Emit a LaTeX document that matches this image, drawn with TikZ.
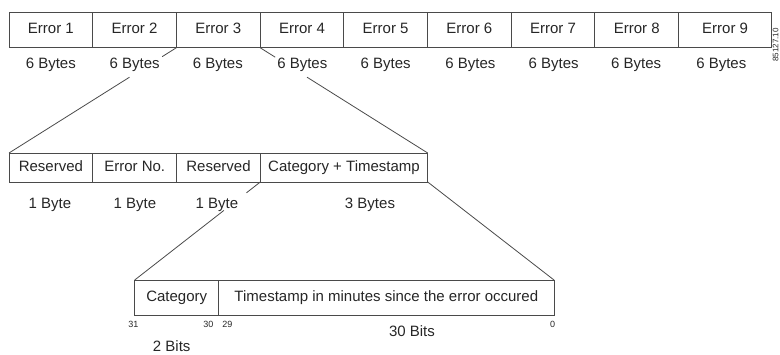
\documentclass[tikz,border=0pt]{standalone}
\usepackage{fontspec}
\setmainfont{Liberation Sans}
\usetikzlibrary{calc}
\definecolor{linec}{HTML}{4A4A4A}
\definecolor{textc}{HTML}{262626}
\begin{document}
\begin{tikzpicture}[x=1bp,y=-1bp,
  cell/.style={draw=linec, line width=0.9bp, inner sep=0pt, outer sep=0pt, anchor=north west,
    text=textc, font=\fontsize{15bp}{17bp}\selectfont, text height=11bp, text depth=3bp},
  lbl/.style={text=textc, font=\fontsize{15bp}{17bp}\selectfont, anchor=base, inner sep=0pt},
  small/.style={text=textc, font=\fontsize{9bp}{10bp}\selectfont, anchor=base, inner sep=0pt},
  conn/.style={draw=linec, line width=0.8bp}]
\useasboundingbox (0,0) rectangle (780,354);
% top row
\node[cell, minimum width=83.7bp, minimum height=35.7bp] (e1) at (9,12) {Error 1};
\node[cell, minimum width=83.7bp, minimum height=35.7bp] (e2) at (e1.north east) {Error 2};
\node[cell, minimum width=83.7bp, minimum height=35.7bp] (e3) at (e2.north east) {Error 3};
\node[cell, minimum width=83.7bp, minimum height=35.7bp] (e4) at (e3.north east) {Error 4};
\node[cell, minimum width=83.7bp, minimum height=35.7bp] (e5) at (e4.north east) {Error 5};
\node[cell, minimum width=83.7bp, minimum height=35.7bp] (e6) at (e5.north east) {Error 6};
\node[cell, minimum width=83.7bp, minimum height=35.7bp] (e7) at (e6.north east) {Error 7};
\node[cell, minimum width=83.7bp, minimum height=35.7bp] (e8) at (e7.north east) {Error 8};
\node[cell, minimum width=93bp, minimum height=35.7bp] (e9) at (e8.north east) {Error 9};
\foreach \i/\x in {1/50.8,2/134.6,3/217.8,4/302.3,5/385.6,6/470.4,7/553.7,8/636.1,9/721.3}
  \node[lbl] (b\i) at (\x,68.3) {6 Bytes};
% second row
\node[cell, minimum width=83.7bp, minimum height=29bp] (r1) at (9,153) {Reserved};
\node[cell, minimum width=84bp, minimum height=29bp] (r2) at (r1.north east) {Error No.};
\node[cell, minimum width=83.6bp, minimum height=29bp] (r3) at (r2.north east) {Reserved};
\node[cell, minimum width=167.4bp, minimum height=29bp] (r4) at (r3.north east) {Category + Timestamp};
\node[lbl] (y1) at (50,208.3) {1 Byte};
\node[lbl] (y2) at (135,208.3) {1 Byte};
\node[lbl] (y3) at (217,208.3) {1 Byte};
\node[lbl] (y4) at (370,208.3) {3 Bytes};
% third row
\node[cell, minimum width=84bp, minimum height=35.7bp] (c1) at (134.7,280) {Category};
\node[cell, minimum width=335.3bp, minimum height=35.7bp] (c2) at (c1.north east) {Timestamp in minutes since the error occured};
\node[small] (n31) at (133.3,327.5) {31};
\node[small] (n30) at (208.3,327.5) {30};
\node[small] (n29) at (227.3,327.5) {29};
\node[small] (n0) at (552.7,327.5) {0};
\node[lbl] (bits30) at (412,336.5) {30 Bits};
\node[lbl] (bits2) at (171.7,351) {2 Bits};
% connectors
\draw[conn] (e2.south east) -- ($(e2.south east)!0.085!(r1.north west)$);
\draw[conn] ($(e2.south east)!0.28!(r1.north west)$) -- (r1.north west);
\draw[conn] (e3.south east) -- ($(e3.south east)!0.09!(r4.north east)$);
\draw[conn] ($(e3.south east)!0.28!(r4.north east)$) -- (r4.north east);
\draw[conn] (r3.south east) -- ($(r3.south east)!0.11!(c1.north west)$);
\draw[conn] ($(r3.south east)!0.29!(c1.north west)$) -- (c1.north west);
\draw[conn] (r4.south east) -- (c2.north east);
% figure code
\node[text=textc, font=\fontsize{8bp}{9bp}\selectfont, rotate=90, inner sep=0pt] (code) at (775.5,45) {85127.10};
\end{tikzpicture}
\end{document}
